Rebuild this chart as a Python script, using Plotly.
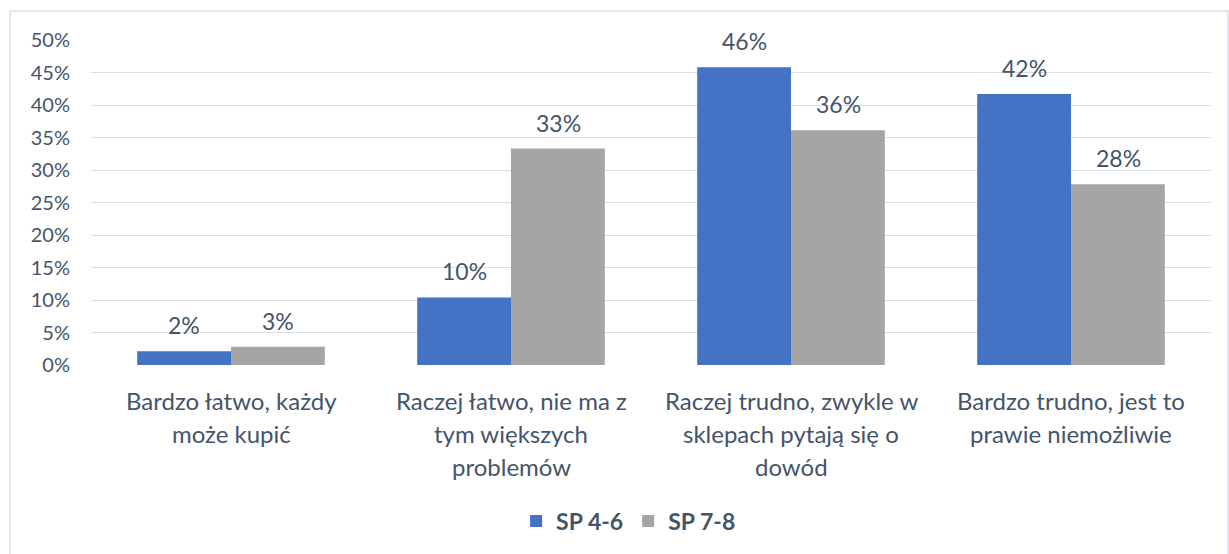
import plotly.graph_objects as go

categories = ["Bardzo łatwo, każdy może kupić",
              "Raczej łatwo, nie ma z tym większych problemów",
              "Raczej trudno, zwykle w sklepach pytają się o dowód",
              "Bardzo trudno, jest to prawie niemożliwie"]
category_lines = [["Bardzo łatwo, każdy", "może kupić"],
                  ["Raczej łatwo, nie ma z", "tym większych", "problemów"],
                  ["Raczej trudno, zwykle w", "sklepach pytają się o", "dowód"],
                  ["Bardzo trudno, jest to", "prawie niemożliwie"]]
sp46 = [0.021, 0.104, 0.458, 0.417]
sp78 = [0.028, 0.333, 0.361, 0.278]
series_names = ["SP 4-6", "SP 7-8"]
colors = ["#4472C4", "#A5A5A5"]
tick_vals = [0, 0.05, 0.10, 0.15, 0.20, 0.25, 0.30, 0.35, 0.40, 0.45, 0.50]

TXT = "#44546A"
FONT = "Lato"

fig = go.Figure()
for name, vals, col in zip(series_names, [sp46, sp78], colors):
    fig.add_trace(go.Bar(x=categories, y=vals, name=name, marker_color=col,
                         marker_line_width=0))

annotations = []
for vals, shift in [(sp46, -47), (sp78, 47)]:
    for c, v in zip(categories, vals):
        annotations.append(dict(x=c, y=v, xref="x", yref="y", text=f"{round(v*100)}%",
                                showarrow=False, yanchor="middle", yshift=26, xshift=shift,
                                font=dict(family=FONT, size=23, color=TXT)))
for c, lines in zip(categories, category_lines):
    for i, line in enumerate(lines):
        annotations.append(dict(x=c, y=0, xref="x", yref="y", text=line, showarrow=False,
                                yanchor="middle", yshift=-35 - 33 * i,
                                font=dict(family=FONT, size=24, color=TXT)))

fig.update_layout(
    width=1229, height=554,
    margin=dict(l=91, r=18, t=40, b=189),
    paper_bgcolor="white", plot_bgcolor="white",
    barmode="group", bargap=0.33, bargroupgap=0,
    font=dict(family=FONT, size=20, color=TXT),
    legend=dict(orientation="h", x=0.48, xanchor="center", y=-0.48, yanchor="middle",
                font=dict(family=FONT, size=23, color=TXT, weight="bold"),
                itemwidth=30, traceorder="normal"),
    annotations=annotations,
    shapes=[dict(type="rect", xref="paper", yref="paper", x0=-0.0723, x1=1.0152,
                 y0=-0.62, y1=1.089, line=dict(color="#D9DEE7", width=1.5),
                 fillcolor="rgba(0,0,0,0)", layer="below")],
)
fig.update_xaxes(showticklabels=False, showgrid=False, zeroline=False, showline=False)
fig.update_yaxes(range=[0, 0.5], tickvals=tick_vals, tickformat=".0%",
                 showgrid=True, gridcolor="#D9DEE7", gridwidth=1, zeroline=False,
                 showline=False, ticklabelstandoff=20,
                 tickfont=dict(family=FONT, size=20, color=TXT))

fig.write_html("out.html", config={"displayModeBar": False},
               post_script="document.body.style.margin='0px';document.body.style.overflow='hidden';")
